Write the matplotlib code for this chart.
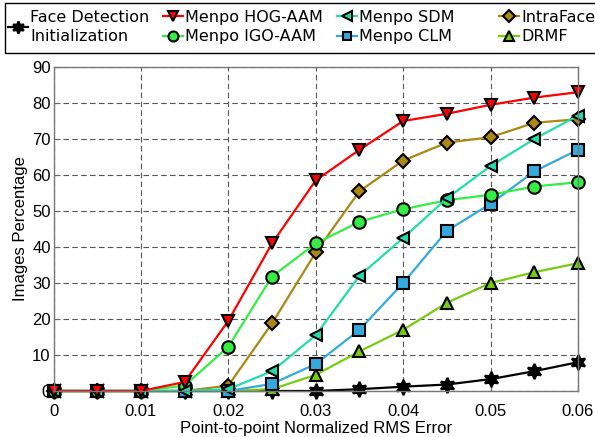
import numpy as np
import matplotlib
matplotlib.use('Agg')
import matplotlib.pyplot as plt
from matplotlib.lines import Line2D
from matplotlib.patches import Rectangle

# point-to-point normalized RMS error thresholds
err = [0, 0.005, 0.01, 0.015, 0.02, 0.025, 0.03, 0.035, 0.04, 0.045, 0.05, 0.055, 0.06]

face_det = [0, 0, 0, 0, 0, 0, 0, 0.5, 1.2, 1.8, 3.3, 5.5, 8.0]
hog_aam = [0, 0, 0, 2.5, 19.5, 41.0, 58.5, 67.0, 75.0, 77.0, 79.5, 81.5, 83.0]
igo_aam = [0, 0, 0, 1.5, 12.3, 31.8, 41.0, 47.0, 50.5, 53.0, 54.5, 56.8, 58.0]
sdm = [0, 0, 0, 0, 0.5, 5.5, 15.5, 32.0, 42.5, 53.5, 62.5, 70.0, 76.5]
intraface = [0, 0, 0, 0, 1.5, 18.8, 38.5, 55.5, 64.0, 69.0, 70.5, 74.5, 75.5]
clm = [0, 0, 0, 0, 0, 2.0, 7.5, 17.0, 30.0, 44.5, 52.0, 61.0, 67.0]
drmf = [0, 0, 0, 0, 0, 0.5, 4.5, 11.0, 17.0, 24.5, 30.0, 33.0, 35.5]

xticks = [0, 0.01, 0.02, 0.03, 0.04, 0.05, 0.06]
xticklabels = ['0', '0.01', '0.02', '0.03', '0.04', '0.05', '0.06']
yticks = [0, 10, 20, 30, 40, 50, 60, 70, 80, 90]

plt.rcParams['font.family'] = ['Liberation Sans', 'DejaVu Sans']
fs = 12
legFont = {'family': 'DejaVu Sans', 'size': 11.5}

W, H = 595., 437.
fig = plt.figure(figsize=(5.95, 4.37), dpi=100)
ax = fig.add_axes([53.5/W, 1 - 391/H, (578 - 53.5)/W, (391 - 67)/H])

hexstar = (6, 1, 0)
ms = 9

# (data, colour, marker, label)
curves = [
    (face_det, 'black', hexstar, 'Face Detection\nInitialization'),
    (drmf, '#77cc11', '^', 'DRMF'),
    (intraface, '#aa8811', 'D', 'IntraFace'),
    (clm, '#33aadd', 's', 'Menpo CLM'),
    (igo_aam, '#33ee44', 'o', 'Menpo IGO-AAM'),
    (sdm, '#22ddaa', '<', 'Menpo SDM'),
    (hog_aam, '#ff0000', 'v', 'Menpo HOG-AAM'),
]

handles = {}
for vals, col, mk, lab in curves:
    msize = ms
    if mk == 'D':
        msize = 7.5
    elif mk == 's':
        msize = 8
    elif mk == hexstar:
        msize = 11
    l, = ax.plot(err, vals, color=col, lw=1.6, marker=mk, markersize=msize,
                 markerfacecolor=col, markeredgecolor='black', markeredgewidth=1.5,
                 clip_on=False, label=lab)
    handles[lab] = l

ax.set_xlim(0, 0.06)
ax.set_ylim(0, 90)
ax.set_xticks(xticks)
ax.set_xticklabels(xticklabels)
ax.set_yticks(yticks)
ax.grid(True, ls=(0, (5, 3)), color='#555555', lw=0.8)
ax.tick_params(direction='in', length=4, color='#666666', labelsize=fs)
ax.tick_params(axis='x', pad=9)
ax.tick_params(axis='y', pad=2)
for sp in ax.spines.values():
    sp.set_color('#777777')
    sp.set_linewidth(1.0)

ax.set_xlabel('Point-to-point Normalized RMS Error', fontsize=fs, labelpad=2)
ax.set_ylabel('Images Percentage', fontsize=fs, labelpad=3)

# legend box at the top
fig.patches.append(Rectangle((5/W, 1 - 52.5/H), 595/W, 50/H, transform=fig.transFigure,
                             fill=False, edgecolor='black', lw=1.0))

def leg_handle(l):
    return Line2D([], [], color=l.get_color(), lw=1.6, marker=l.get_marker(),
                  markersize=l.get_markersize() * 0.8, markerfacecolor=l.get_markerfacecolor(),
                  markeredgecolor='black', markeredgewidth=1.5)

# one legend per column, like the MATLAB layout
columns = [
    (8, ['Face Detection\nInitialization']),
    (163, ['Menpo HOG-AAM', 'Menpo IGO-AAM']),
    (337, ['Menpo SDM', 'Menpo CLM']),
    (499, ['IntraFace', 'DRMF']),
]
for x0, labs in columns:
    lg = fig.legend([leg_handle(handles[k]) for k in labs], labs, loc='center left',
                    bbox_to_anchor=(x0/W, 1 - 27/H), frameon=False, prop=legFont,
                    handlelength=1.25, handletextpad=0.15, labelspacing=0.28,
                    borderpad=0, borderaxespad=0)
    for t in lg.get_texts():
        t.set_linespacing(1.35)

plt.savefig('out.png', dpi=100)
